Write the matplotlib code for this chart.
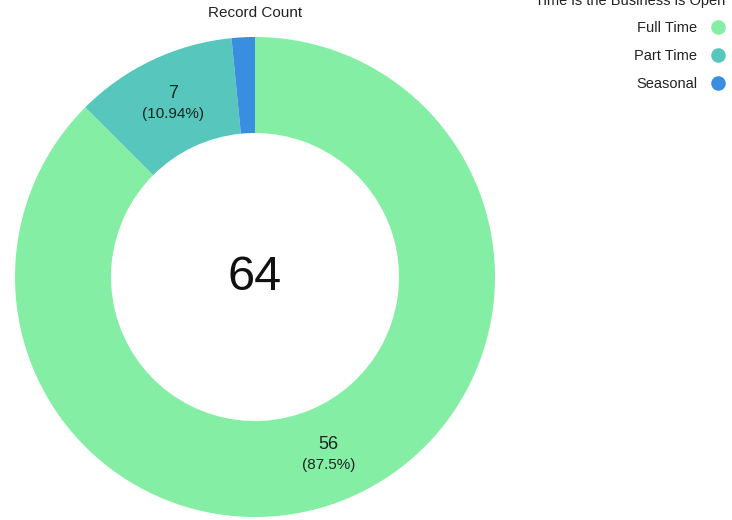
import numpy as np
import matplotlib.pyplot as plt
from matplotlib.lines import Line2D

plt.rcParams['font.family'] = ['Liberation Sans', 'DejaVu Sans']

categories = ['Full Time', 'Part Time', 'Seasonal']
counts = [56, 7, 1]
colors = ['#84efa4', '#57c7bd', '#3a8edf']
legend_title = 'Time is the Business is Open'
measure = 'Record Count'

W, H = 732, 520
fig = plt.figure(figsize=(W / 100, H / 100), dpi=100)

# donut: centre (255, 277) px from top-left, outer radius 240 px
cx, cy, r = 255, 277, 240
ax = fig.add_axes([(cx - r) / W, (H - cy - r) / H, 2 * r / W, 2 * r / H])

wedges, _ = ax.pie(counts, colors=colors, startangle=90, counterclock=False,
                   radius=1, wedgeprops=dict(width=0.4, edgecolor='none'))
ax.set_xlim(-1, 1)
ax.set_ylim(-1, 1)
ax.set_aspect('equal')
ax.axis('off')

total = sum(counts)
for w, c in zip(wedges, counts):
    if c / total < 0.05:
        continue
    mid = np.deg2rad((w.theta1 + w.theta2) / 2)
    x, y = 0.8 * np.cos(mid), 0.8 * np.sin(mid)
    pct = c / total * 100
    ax.text(x, y + 0.04, str(c), ha='center', va='center', fontsize=13, color='#222222')
    ax.text(x, y - 0.045, '(%s%%)' % ('%.2f' % pct).rstrip('0').rstrip('.'),
            ha='center', va='center', fontsize=11, color='#222222')

ax.text(0, 0, str(total), ha='center', va='center', fontsize=35, color='#111111')

fig.text(cx / W, 1 - 13 / H, measure, ha='center', va='center', fontsize=11, color='#222222')

handles = [Line2D([], [], marker='o', linestyle='none', markersize=10.5,
                  markerfacecolor=col, markeredgecolor='none') for col in colors]
fig.legend(handles, categories, loc='upper right', bbox_to_anchor=(725 / W, 1 - 21 / H),
           frameon=False, markerfirst=False, fontsize=10.5, labelspacing=0.95,
           handlelength=1.0, handletextpad=0.9, borderpad=0, borderaxespad=0,
           labelcolor='#222222')
fig.text(725 / W, 1 - 1 / H, legend_title, ha='right', va='center', fontsize=10.5, color='#222222')

fig.savefig('out.png', dpi=100)
